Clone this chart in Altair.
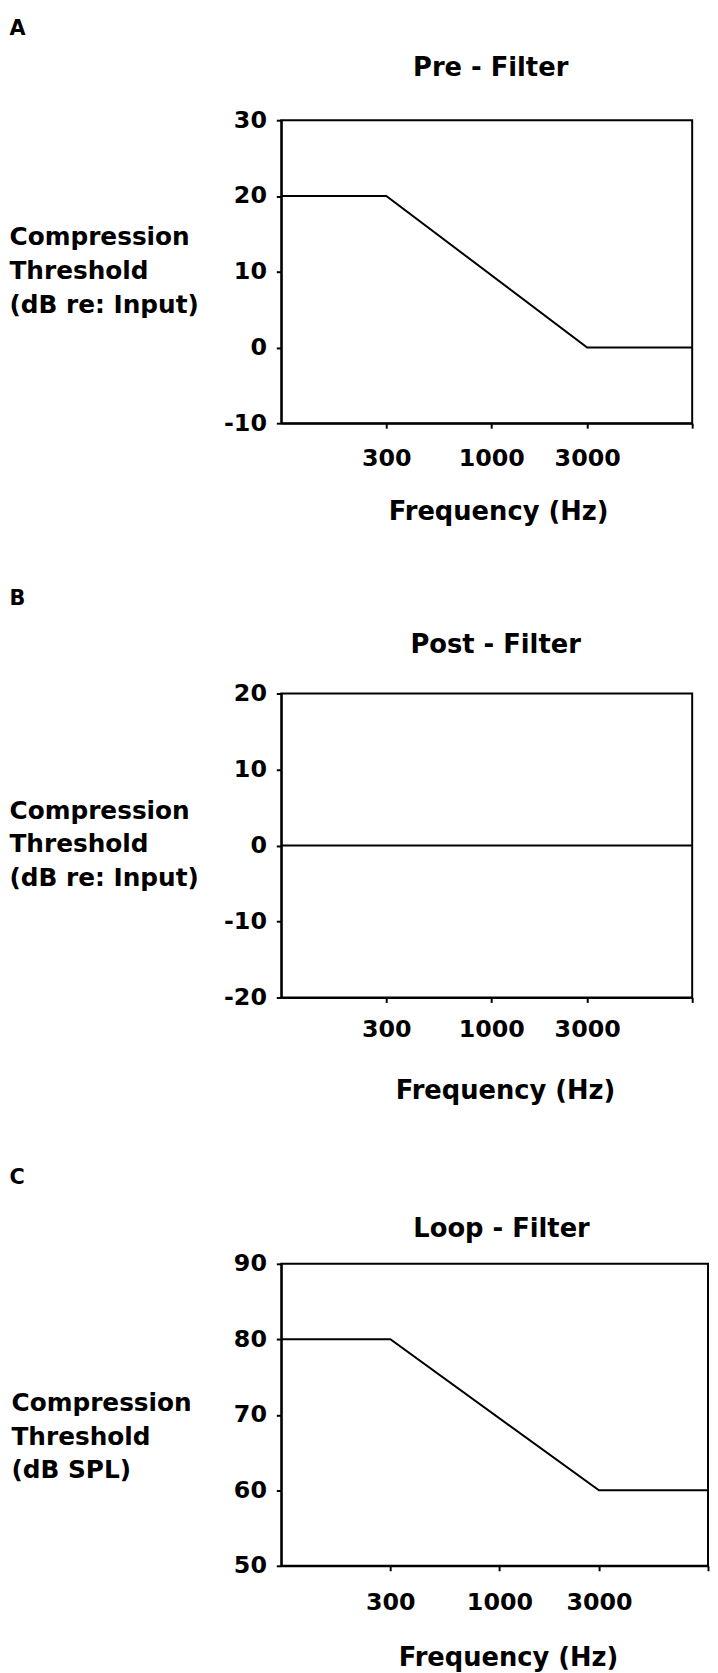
import altair as alt
import pandas as pd

FONT = "DejaVu Sans"

# ---- data ----
freq_a = [90, 300, 3000, 10000]
thr_a = [20, 20, 0, 0]

freq_b = [90, 10000]
thr_b = [0, 0]

freq_c = [90, 300, 3000, 10000]
thr_c = [80, 80, 60, 60]

x_domain = [90, 10000]
x_ticks = [300, 1000, 3000, 10000]  # 10000 = unlabeled end tick

yticks_a = [-10, 0, 10, 20, 30]
yticks_b = [-20, -10, 0, 10, 20]
yticks_c = [50, 60, 70, 80, 90]

ytitle_ab = ["Compression", "Threshold", "(dB re: Input)"]
ytitle_c = ["Compression", "Threshold", "(dB SPL)"]

panels = [
    dict(letter="A", title="Pre - Filter", freq=freq_a, thr=thr_a, ydomain=[-10, 30],
         yticks=yticks_a, ytitle=ytitle_ab, width=415, height=306,
         ytX=-275, ytY=118, letX=-275, letY=-87, tX=211, tY=-45,
         labpad=19, fX=219, fY=97),
    dict(letter="B", title="Post - Filter", freq=freq_b, thr=thr_b, ydomain=[-20, 20],
         yticks=yticks_b, ytitle=ytitle_ab, width=415, height=307,
         ytX=-275, ytY=118, letX=-275, letY=-90, tX=216, tY=-41,
         labpad=15, fX=226, fY=102),
    dict(letter="C", title="Loop - Filter", freq=freq_c, thr=thr_c, ydomain=[50, 90],
         yticks=yticks_c, ytitle=ytitle_c, width=431, height=305,
         ytX=-273, ytY=140, letX=-275, letY=-81, tX=222, tY=-28,
         labpad=20, fX=229, fY=101),
]


def panel(p):
    df = pd.DataFrame({"freq": p["freq"], "thr": p["thr"]})
    xscale = alt.Scale(type="log", domain=x_domain, nice=False)
    yscale = alt.Scale(domain=p["ydomain"], nice=False, zero=False)

    line = alt.Chart(df).mark_line(color="black", strokeWidth=2, clip=True).encode(
        x=alt.X(
            "freq:Q", scale=xscale,
            axis=alt.Axis(
                orient="bottom",
                values=x_ticks,
                labelExpr="datum.value >= 10000 ? '' : '' + datum.value",
                labelPadding=p["labpad"],
                title="Frequency (Hz)",
                titleX=p["fX"], titleY=p["fY"],
                titleAlign="center", titleBaseline="alphabetic", titleAngle=0,
                titleFontSize=26,
            ),
        ),
        y=alt.Y(
            "thr:Q", scale=yscale,
            axis=alt.Axis(
                orient="left",
                values=p["yticks"],
                labelExpr="'' + datum.value",
                labelPadding=10,
                title=p["ytitle"],
                titleX=p["ytX"], titleY=p["ytY"],
                titleAlign="left", titleBaseline="middle", titleAngle=0,
                titleFontSize=25, titleLineHeight=34,
            ),
        ),
    )

    # guide-only layer: panel title (top axis) and panel letter (right axis)
    guides = alt.Chart(df).mark_line(strokeOpacity=0).encode(
        x=alt.X(
            "freq:Q", scale=xscale,
            axis=alt.Axis(
                orient="top", labels=False, ticks=False, domain=False, grid=False,
                title=p["title"], titleX=p["tX"], titleY=p["tY"],
                titleAlign="center", titleBaseline="alphabetic", titleAngle=0,
                titleFontSize=26,
            ),
        ),
        y=alt.Y(
            "thr:Q", scale=yscale,
            axis=alt.Axis(
                orient="right", labels=False, ticks=False, domain=False, grid=False,
                title=p["letter"], titleX=p["letX"] - p["width"], titleY=p["letY"],
                titleAlign="left", titleBaseline="alphabetic", titleAngle=0,
                titleFontSize=21,
            ),
        ),
    )

    return alt.layer(line, guides).resolve_axis(
        x="independent", y="independent"
    ).properties(width=p["width"], height=p["height"])


chart = alt.concat(
    *[panel(p) for p in panels], columns=1, spacing=62, align="none"
).properties(
    padding=0
).configure_view(
    stroke="black", strokeWidth=2
).configure_axis(
    grid=False,
    domainColor="black", domainWidth=2,
    tickColor="black", tickWidth=2, tickSize=5,
    labelFont=FONT, labelFontSize=24, labelFontWeight="bold", labelColor="black",
    titleFont=FONT, titleFontWeight="bold", titleColor="black",
)

chart.save("out.html", embed_options={"renderer": "svg", "actions": False})
